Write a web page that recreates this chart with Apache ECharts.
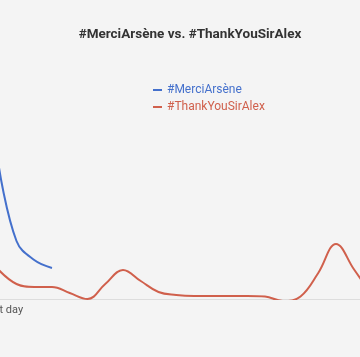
<!DOCTYPE html>
<html>
<head>
<meta charset="utf-8">
<script src="https://cdn.jsdelivr.net/npm/echarts@6/dist/echarts.min.js"></script>
<style>
html,body{margin:0;padding:0;background:#f4f4f4;}
#chart{width:360px;height:357px;}
</style>
</head>
<body>
<div id="chart"></div>
<script>
const titleText = '#MerciArsène vs. #ThankYouSirAlex';
const seriesNames = ['#MerciArsène', '#ThankYouSirAlex'];
const categories = ['First day','2','3','4','5','6','7','8','9','10','11','12','13','14','15','16','17','18','19','20','21','22'];
const merciArsene = [133, 58, 39, 31];
const thankYouSirAlex = [29, 15, 12, 12, 6, 0, 15, 29, 18, 7, 4, 3, 3, 3, 3, 2.5, -2, 2.5, 26, 55, 30, 4];

const chart = echarts.init(document.getElementById('chart'));
const font = 'Roboto, "Noto Sans", sans-serif';
chart.setOption({
  backgroundColor: '#f4f4f4',
  animation: false,
  title: {
    text: titleText,
    left: 185, top: 23, textAlign: 'center',
    textStyle: {fontFamily: font, fontSize: 13.5, fontWeight: 'bold', color: '#333'}
  },
  legend: {
    orient: 'vertical',
    left: 153, top: 84, padding: 0,
    itemWidth: 9, itemHeight: 2, itemGap: 5,
    icon: 'rect',
    textStyle: {fontFamily: font, fontSize: 12},
    data: [
      {name: seriesNames[0], textStyle: {color: '#4470cc'}},
      {name: seriesNames[1], textStyle: {color: '#d0604c'}}
    ]
  },
  grid: {left: -1.25, right: -11.5, top: 49, bottom: 58, containLabel: false, outerBoundsMode: 'none'},
  xAxis: {
    type: 'category', data: categories, boundaryGap: false,
    axisLine: {lineStyle: {color: '#dddddd', width: 1}},
    axisTick: {show: false},
    axisLabel: {
      interval: function(i){ return i === 0; },
      fontFamily: font, fontSize: 11, color: '#555', margin: 6,
      padding: [0, 0, 0, 7]
    }
  },
  yAxis: {type: 'value', min: 0, max: 250, show: false, splitLine: {show: false}},
  series: [
    {name: seriesNames[0], type: 'line', data: merciArsene, smooth: 0.4, showSymbol: false,
     lineStyle: {color: '#4470cc', width: 2}, itemStyle: {color: '#4470cc'}},
    {name: seriesNames[1], type: 'line', data: thankYouSirAlex, smooth: 0.4, showSymbol: false,
     lineStyle: {color: '#d0604c', width: 2}, itemStyle: {color: '#d0604c'}}
  ]
});
</script>
</body>
</html>
